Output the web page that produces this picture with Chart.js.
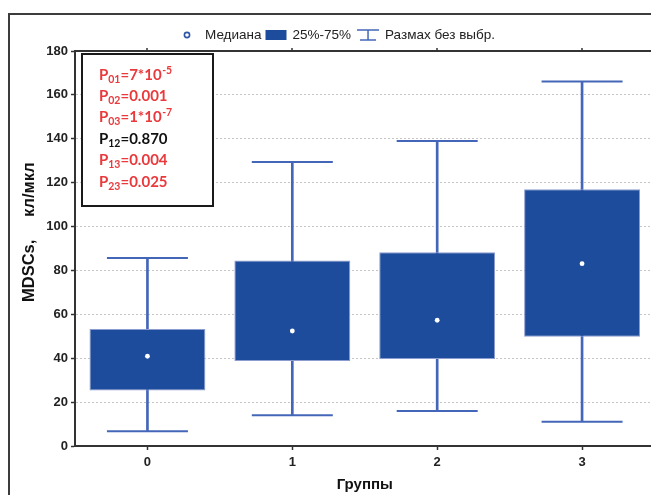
<!DOCTYPE html>
<html>
<head>
<meta charset="utf-8">
<script src="https://cdn.jsdelivr.net/npm/chart.js@4/dist/chart.umd.min.js"></script>
<style>
  html, body { margin: 0; padding: 0; background: #fff; overflow: hidden; width: 651px; height: 495px; }
  #wrap { position: relative; width: 697px; height: 495px; }
</style>
</head>
<body>
<div id="wrap"><canvas id="chart" width="697" height="495"></canvas></div>
<script>
// Groups on the x axis
const groups = ['0', '1', '2', '3'];
// Box-plot statistics per group (cells per µl)
const whiskerLow  = [6.7, 14.0, 16.0, 11.1];
const quartile1   = [25.3, 38.7, 39.7, 49.8];
const medians     = [40.9, 52.4, 57.3, 83.1];
const quartile3   = [53.3, 84.5, 88.3, 117.0];
const whiskerHigh = [85.7, 129.4, 139.0, 166.1];
// Y axis tick values
const yTickValues = [0, 20, 40, 60, 80, 100, 120, 140, 160, 180];
// Pairwise comparison p-values
const pPairs     = ['01', '02', '03', '12', '13', '23'];
const pMantissas = ['=7*10', '=0.001', '=1*10', '=0.870', '=0.004', '=0.025'];
const pExponents = ['-5', '', '-7', '', '', ''];
const pSignificant = [true, true, true, false, true, true];

const BOX_FILL = '#1D4C9C';
const BOX_EDGE = '#8C9BD0';
const WHISKER = '#4466B8';
const AXIS = '#333333';
const RED = '#E9393C';
const SANS = '"Liberation Sans", Arial, sans-serif';
const NOTE_FONT = 'Lato, "Open Sans", sans-serif';

const decor = {
  id: 'decor',
  beforeDraw(chart) {
    const ctx = chart.ctx;
    ctx.save();
    ctx.fillStyle = '#fff';
    ctx.fillRect(0, 0, chart.width, chart.height);
    // outer frame
    ctx.strokeStyle = '#3c3c3c';
    ctx.lineWidth = 2;
    ctx.beginPath();
    ctx.moveTo(9, chart.height);
    ctx.lineTo(9, 14);
    ctx.lineTo(chart.width, 14);
    ctx.stroke();
    ctx.restore();
  },
  afterDraw(chart) {
    const ctx = chart.ctx;
    const area = chart.chartArea;
    const xs = chart.scales.x;
    ctx.save();
    // top edge of the plot with tick marks
    ctx.strokeStyle = AXIS;
    ctx.lineWidth = 2;
    ctx.beginPath();
    ctx.moveTo(area.left - 1, area.top);
    ctx.lineTo(area.right, area.top);
    ctx.stroke();
    ctx.lineWidth = 1.5;
    groups.forEach((g, i) => {
      const px = Math.round(xs.getPixelForValue(i));
      ctx.beginPath();
      ctx.moveTo(px, area.top - 3);
      ctx.lineTo(px, area.top + 1);
      ctx.stroke();
    });

    // p-value annotation box
    ctx.fillStyle = '#fff';
    ctx.fillRect(82, 54, 131, 152);
    ctx.strokeStyle = '#1a1a1a';
    ctx.lineWidth = 2;
    ctx.strokeRect(82, 54, 131, 152);
    ctx.textBaseline = 'alphabetic';
    ctx.textAlign = 'left';
    pPairs.forEach((pair, i) => {
      const base = 79.5 + i * 21.4;
      let x = 99;
      ctx.fillStyle = pSignificant[i] ? RED : '#111';
      ctx.font = 'bold 15px ' + NOTE_FONT;
      ctx.fillText('P', x, base);
      x += ctx.measureText('P').width;
      ctx.font = 'bold 10.5px ' + NOTE_FONT;
      ctx.fillText(pair, x, base + 3);
      x += ctx.measureText(pair).width;
      ctx.font = 'bold 15px ' + NOTE_FONT;
      ctx.fillText(pMantissas[i], x, base);
      x += ctx.measureText(pMantissas[i]).width;
      if (pExponents[i]) {
        ctx.font = 'bold 10.5px ' + NOTE_FONT;
        ctx.fillText(pExponents[i], x + 0.5, base - 6);
      }
    });

    // legend
    const ly = 35;
    ctx.textBaseline = 'middle';
    ctx.font = '13.5px ' + SANS;
    ctx.fillStyle = '#222';
    let lx = 184;
    ctx.strokeStyle = '#2E55A8';
    ctx.lineWidth = 1.6;
    ctx.beginPath();
    ctx.arc(lx + 3, ly, 2.6, 0, Math.PI * 2);
    ctx.stroke();
    lx += 21;
    ctx.fillText('Медиана', lx, ly);
    lx += ctx.measureText('Медиана').width + 4;
    ctx.fillStyle = BOX_FILL;
    ctx.fillRect(lx, ly - 5, 21, 10);
    lx += 21 + 6;
    ctx.fillStyle = '#222';
    ctx.fillText('25%-75%', lx, ly);
    lx += ctx.measureText('25%-75%').width + 6;
    ctx.strokeStyle = WHISKER;
    ctx.lineWidth = 1.5;
    ctx.beginPath();
    ctx.moveTo(lx, ly - 5); ctx.lineTo(lx + 22, ly - 5);
    ctx.moveTo(lx + 11, ly - 5); ctx.lineTo(lx + 11, ly + 5);
    ctx.moveTo(lx + 3, ly + 5); ctx.lineTo(lx + 19, ly + 5);
    ctx.stroke();
    lx += 22 + 6;
    ctx.fillText('Размах без выбр.', lx, ly);

    // y axis title
    ctx.translate(29, 302);
    ctx.rotate(-Math.PI / 2);
    ctx.fillStyle = '#111';
    ctx.font = 'bold 16.5px ' + SANS;
    ctx.textBaseline = 'middle';
    ctx.textAlign = 'left';
    ctx.fillText('MDSCs,', 0, 0);
    ctx.fillText('кл/мкл', 85, 0);
    ctx.restore();
  }
};

new Chart(document.getElementById('chart'), {
  type: 'bar',
  data: {
    labels: groups,
    datasets: [
      {
        type: 'bar',
        label: 'whisker',
        data: groups.map((g, i) => [whiskerLow[i], whiskerHigh[i]]),
        backgroundColor: WHISKER,
        borderWidth: 0,
        barThickness: 2,
        grouped: false,
        order: 4
      },
      {
        type: 'line',
        label: 'upper cap',
        data: whiskerHigh,
        showLine: false,
        pointStyle: 'line',
        pointRadius: 40.5,
        pointHoverRadius: 40.5,
        pointBorderWidth: 2,
        pointBorderColor: WHISKER,
        borderColor: WHISKER,
        order: 3
      },
      {
        type: 'line',
        label: 'lower cap',
        data: whiskerLow,
        showLine: false,
        pointStyle: 'line',
        pointRadius: 40.5,
        pointHoverRadius: 40.5,
        pointBorderWidth: 2,
        pointBorderColor: WHISKER,
        borderColor: WHISKER,
        order: 3
      },
      {
        type: 'bar',
        label: '25%-75%',
        data: groups.map((g, i) => [quartile1[i], quartile3[i]]),
        backgroundColor: BOX_FILL,
        borderColor: BOX_EDGE,
        borderWidth: 1,
        borderSkipped: false,
        barPercentage: 0.8,
        categoryPercentage: 1.0,
        grouped: false,
        order: 2
      },
      {
        type: 'line',
        label: 'Медиана',
        data: medians,
        showLine: false,
        pointStyle: 'circle',
        pointRadius: 2.4,
        pointHoverRadius: 2.4,
        pointBackgroundColor: '#ffffff',
        pointBorderWidth: 0,
        order: 1
      }
    ]
  },
  options: {
    responsive: false,
    animation: false,
    events: [],
    layout: { padding: { top: 51, right: 0, left: 0, bottom: 0 } },
    plugins: { legend: { display: false }, tooltip: { enabled: false } },
    scales: {
      x: {
        offset: true,
        grid: { drawOnChartArea: false, drawTicks: true, tickLength: 4, offset: false, tickColor: AXIS, tickWidth: 1.5 },
        border: { display: true, color: AXIS, width: 2 },
        ticks: { color: '#222', padding: 5, font: { family: SANS, size: 13, weight: 'bold' } },
        title: { display: true, text: 'Группы', color: '#111', padding: { top: 0, bottom: 1 }, font: { family: SANS, size: 15, weight: 'bold' } },
        afterFit: s => { s.height = 49; }
      },
      y: {
        min: 0,
        max: 180,
        afterBuildTicks: s => { s.ticks = yTickValues.map(v => ({ value: v })); },
        grid: { color: '#c6c6c6', lineWidth: 1, tickLength: 4, tickColor: AXIS, tickWidth: 1.5, tickBorderDash: [] },
        border: { display: true, color: AXIS, width: 2, dash: [2, 2] },
        ticks: { color: '#222', padding: 3, font: { family: SANS, size: 13, weight: 'bold' } },
        afterFit: s => { s.width = 75; }
      }
    }
  },
  plugins: [decor]
});
</script>
</body>
</html>
